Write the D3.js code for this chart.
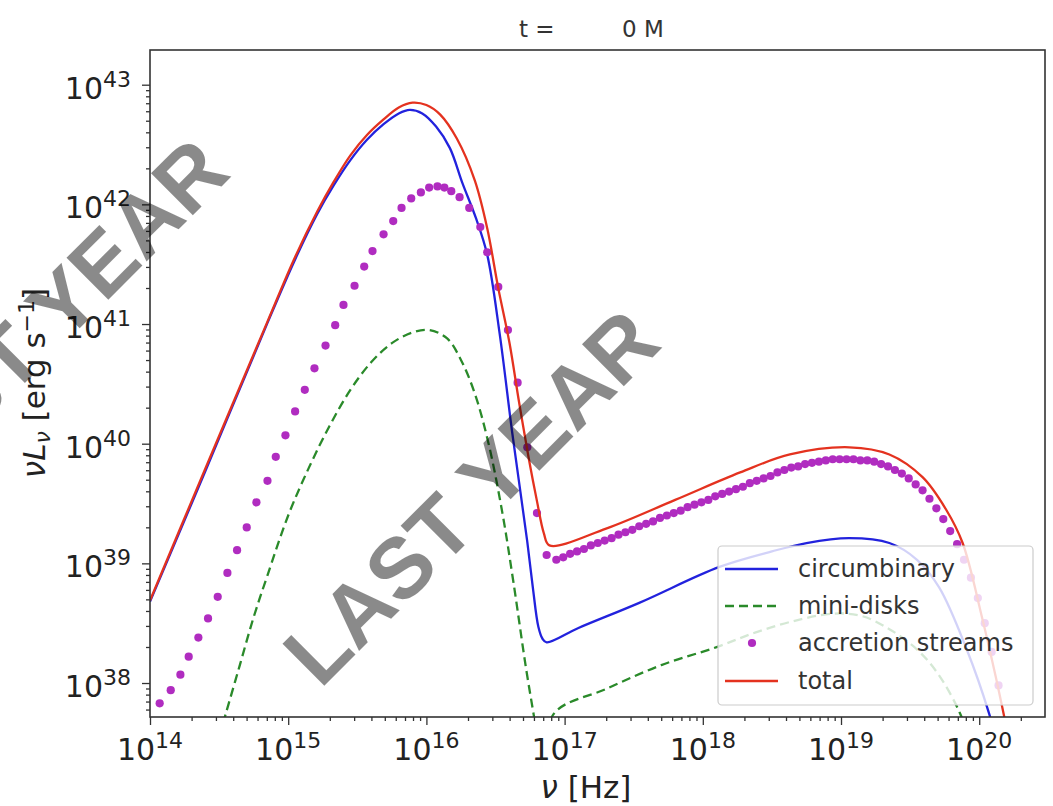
<!DOCTYPE html>
<html><head><meta charset="utf-8">
<script src="https://cdn.jsdelivr.net/npm/d3@7"></script>
<style>body{margin:0;background:#fff}svg{display:block}</style>
</head><body>
<svg id="c" width="1053" height="806"></svg>
<script>
// ---- data (log10 values) ----
const xTickExp = [14, 15, 16, 17, 18, 19, 20];
const yTickExp = [38, 39, 40, 41, 42, 43];
const legendLabels = ["circumbinary", "mini-disks", "accretion streams", "total"];

const circNu = [14.00, 14.40, 14.85, 15.05, 15.21, 15.33, 15.45, 15.57, 15.69, 15.80, 15.88, 15.97, 16.07, 16.17, 16.26, 16.36, 16.44, 16.53, 16.62, 16.68, 16.73, 16.77, 16.81, 16.84, 16.87, 17.10, 17.54, 18.12, 18.50, 18.75, 19.06, 19.35, 19.55, 19.71, 19.91, 20.07, 20.15];
const circL  = [38.68, 39.77, 41.01, 41.54, 41.92, 42.16, 42.37, 42.54, 42.67, 42.76, 42.79, 42.76, 42.65, 42.47, 42.18, 41.88, 41.58, 40.92, 40.10, 39.60, 39.18, 38.80, 38.47, 38.37, 38.34, 38.46, 38.67, 38.97, 39.10, 39.17, 39.21, 39.17, 39.03, 38.80, 38.28, 37.75, 37.40];

const miniNu = [14.50, 14.55, 14.65, 14.75, 14.85, 15.00, 15.15, 15.30, 15.45, 15.60, 15.75, 15.90, 16.02, 16.15, 16.25, 16.35, 16.45, 16.55, 16.63, 16.72, 16.80, 16.85, 16.92, 17.30, 17.70, 18.10, 18.40, 18.70, 18.95, 19.15, 19.35, 19.55, 19.70, 19.86, 19.95];
const miniL  = [37.55, 37.75, 38.15, 38.55, 38.90, 39.40, 39.80, 40.15, 40.45, 40.68, 40.84, 40.93, 40.95, 40.88, 40.70, 40.42, 40.00, 39.42, 38.84, 38.13, 37.57, 37.20, 37.74, 37.95, 38.15, 38.30, 38.43, 38.53, 38.58, 38.56, 38.45, 38.28, 38.08, 37.75, 37.45];

const streamNu = [14.07, 14.15, 14.22, 14.28, 14.35, 14.42, 14.49, 14.56, 14.63, 14.70, 14.77, 14.85, 14.91, 14.98, 15.05, 15.12, 15.19, 15.27, 15.34, 15.40, 15.48, 15.55, 15.61, 15.69, 15.76, 15.82, 15.89, 15.96, 16.02, 16.08, 16.13, 16.18, 16.24, 16.31, 16.39, 16.44, 16.52, 16.59, 16.66, 16.73, 16.80, 16.87,
  16.94, 16.99, 17.04, 17.09, 17.14, 17.19, 17.24, 17.29, 17.34, 17.39, 17.44, 17.49, 17.54, 17.59, 17.64, 17.69, 17.74, 17.79, 17.84, 17.89, 17.94, 17.99, 18.04, 18.09, 18.14, 18.19, 18.24, 18.29, 18.34, 18.39, 18.44, 18.49, 18.54, 18.59, 18.64, 18.69, 18.74, 18.79, 18.84, 18.89, 18.94, 18.99, 19.04, 19.09, 19.14, 19.19, 19.24, 19.29, 19.34, 19.39, 19.44, 19.49, 19.54, 19.59, 19.64, 19.69, 19.74, 19.79, 19.84, 19.89, 19.94, 19.99, 20.04, 20.09, 20.14, 20.19];
const streamL  = [37.83, 37.94, 38.07, 38.22, 38.38, 38.54, 38.72, 38.92, 39.11, 39.30, 39.51, 39.69, 39.89, 40.07, 40.27, 40.45, 40.63, 40.82, 40.99, 41.16, 41.32, 41.48, 41.61, 41.75, 41.86, 41.97, 42.05, 42.10, 42.14, 42.15, 42.14, 42.11, 42.06, 41.97, 41.81, 41.60, 41.31, 40.95, 40.51, 39.97, 39.42, 39.07,
  39.03, 39.05, 39.08, 39.10, 39.12, 39.15, 39.17, 39.19, 39.21, 39.24, 39.26, 39.28, 39.31, 39.33, 39.35, 39.38, 39.40, 39.42, 39.44, 39.47, 39.49, 39.51, 39.53, 39.56, 39.58, 39.60, 39.62, 39.64, 39.67, 39.69, 39.71, 39.73, 39.76, 39.78, 39.80, 39.81, 39.83, 39.84, 39.85, 39.86, 39.87, 39.87, 39.87, 39.87, 39.86, 39.86, 39.85, 39.83, 39.81, 39.78, 39.75, 39.71, 39.66, 39.61, 39.54, 39.46, 39.37, 39.27, 39.16, 39.03, 38.88, 38.71, 38.50, 38.26, 37.98, 37.67];

const totalNu = [14.00, 14.40, 14.85, 15.05, 15.21, 15.33, 15.45, 15.57, 15.69, 15.80, 15.90, 16.00, 16.10, 16.22, 16.35, 16.44, 16.52, 16.60, 16.67, 16.74, 16.80, 16.85, 16.89, 17.30, 17.80, 18.27, 18.63, 19.06, 19.35, 19.59, 19.76, 19.88, 20.02, 20.12, 20.22];
const totalL  = [38.69, 39.79, 41.02, 41.56, 41.94, 42.19, 42.41, 42.58, 42.71, 42.81, 42.85, 42.83, 42.75, 42.55, 42.20, 41.80, 41.30, 40.85, 40.35, 39.88, 39.52, 39.25, 39.15, 39.29, 39.53, 39.76, 39.91, 39.97, 39.91, 39.72, 39.45, 39.17, 38.55, 38.05, 37.50];

// ---- layout ----
const L = 150, R = 1045, T = 50, B = 717;
const col = {circ: "#2222dd", mini: "#2a8a2a", stream: "#b02cc0", total: "#e4321f", axis: "#333"};
const pw = v => Math.pow(10, v);
const x = d3.scaleLog().domain([1e14, pw(20.476)]).range([L, R]);
const y = d3.scaleLog().domain([pw(37.716), pw(43.29)]).range([B, T]);

const svg = d3.select("#c");
svg.append("rect").attr("width", 1053).attr("height", 806).attr("fill", "#fff");
svg.append("defs").append("clipPath").attr("id", "clip")
  .append("rect").attr("x", L).attr("y", T).attr("width", R - L).attr("height", B - T);

const plot = svg.append("g").attr("clip-path", "url(#clip)");
const zip = (a, b) => a.map((v, i) => [pw(v), pw(b[i])]);
const line = d3.line().x(d => x(d[0])).y(d => y(d[1])).curve(d3.curveCatmullRom.alpha(0.5));

plot.append("path").datum(zip(circNu, circL)).attr("d", line)
  .attr("fill", "none").attr("stroke", col.circ).attr("stroke-width", 2.3);
plot.append("path").datum(zip(miniNu, miniL)).attr("d", line)
  .attr("fill", "none").attr("stroke", col.mini).attr("stroke-width", 2.3).attr("stroke-dasharray", "9,5");
plot.selectAll("circle.s").data(zip(streamNu, streamL)).join("circle")
  .attr("class", "s").attr("cx", d => x(d[0])).attr("cy", d => y(d[1])).attr("r", 4.1).attr("fill", col.stream);
plot.append("path").datum(zip(totalNu, totalL)).attr("d", line)
  .attr("fill", "none").attr("stroke", col.total).attr("stroke-width", 2.3);

// ---- axes ----
const majX = xTickExp.map(pw), majY = yTickExp.map(pw);
const isMaj = v => Math.abs(Math.log10(v) - Math.round(Math.log10(v))) < 1e-6;
const minX = x.ticks(20).filter(v => !isMaj(v));
const minY = y.ticks(20).filter(v => !isMaj(v));

function styleAxis(g) { g.select(".domain").remove(); g.selectAll("line").attr("stroke", col.axis).attr("stroke-width", 1.3); }
svg.append("g").attr("transform", `translate(0,${B})`).call(d3.axisBottom(x).tickValues(majX).tickSize(8).tickFormat("")).call(styleAxis);
svg.append("g").attr("transform", `translate(0,${B})`).call(d3.axisBottom(x).tickValues(minX).tickSize(4).tickFormat("")).call(styleAxis);
svg.append("g").attr("transform", `translate(${L},0)`).call(d3.axisLeft(y).tickValues(majY).tickSize(8).tickFormat("")).call(styleAxis);
svg.append("g").attr("transform", `translate(${L},0)`).call(d3.axisLeft(y).tickValues(minY).tickSize(4).tickFormat("")).call(styleAxis);

svg.append("rect").attr("x", L).attr("y", T).attr("width", R - L).attr("height", B - T)
  .attr("fill", "none").attr("stroke", col.axis).attr("stroke-width", 1.6);

const font = "DejaVu Sans, sans-serif";
xTickExp.forEach(e => {
  const t = svg.append("text").attr("x", x(pw(e))).attr("y", 760).attr("text-anchor", "middle")
    .attr("font-family", font).attr("font-size", 30).attr("fill", "#222");
  t.append("tspan").text("10");
  t.append("tspan").attr("dy", -12).attr("font-size", 22).text(e);
});
yTickExp.forEach(e => {
  const t = svg.append("text").attr("x", 131).attr("y", y(pw(e)) + 14).attr("text-anchor", "end")
    .attr("font-family", font).attr("font-size", 30).attr("fill", "#222");
  t.append("tspan").text("10");
  t.append("tspan").attr("dy", -12).attr("font-size", 22).text(e);
});

// axis labels
const xl = svg.append("text").attr("x", 586).attr("y", 798).attr("text-anchor", "middle")
  .attr("font-family", font).attr("font-size", 31).attr("fill", "#222");
xl.append("tspan").attr("font-style", "italic").text("ν");
xl.append("tspan").text(" [Hz]");

const yl = svg.append("text").attr("transform", "translate(45,383) rotate(-90)").attr("text-anchor", "middle")
  .attr("font-family", font).attr("font-size", 31).attr("fill", "#222");
yl.append("tspan").attr("font-style", "italic").text("νL");
yl.append("tspan").attr("font-style", "italic").attr("font-size", 22).attr("dy", 5).text("ν");
yl.append("tspan").attr("dy", -5).text(" [erg s");
yl.append("tspan").attr("font-size", 22).attr("dy", -11).text("−1");
yl.append("tspan").attr("dy", 11).text("]");

// title
const tt = svg.append("text").attr("y", 37).attr("font-family", font).attr("font-size", 23).attr("fill", "#333");
tt.append("tspan").attr("x", 519).text("t =");
tt.append("tspan").attr("x", 622).text("0 M");

// ---- legend ----
const lg = svg.append("g");
lg.append("rect").attr("x", 718).attr("y", 546).attr("width", 315).attr("height", 159).attr("rx", 4)
  .attr("fill", "#fff").attr("fill-opacity", 0.8).attr("stroke", "#cccccc").attr("stroke-width", 1.2);
const rowY = [569, 606, 643, 681];
const legStyle = [
  {c: col.circ, dash: null, dot: false},
  {c: col.mini, dash: "9,5", dot: false},
  {c: col.stream, dash: null, dot: true},
  {c: col.total, dash: null, dot: false}
];
legendLabels.forEach((lab, i) => {
  const s = legStyle[i];
  if (s.dot) {
    lg.append("circle").attr("cx", 752).attr("cy", rowY[i]).attr("r", 4.1).attr("fill", s.c);
  } else {
    const ln = lg.append("line").attr("x1", 725).attr("x2", 778).attr("y1", rowY[i]).attr("y2", rowY[i])
      .attr("stroke", s.c).attr("stroke-width", 2.3);
    if (s.dash) ln.attr("stroke-dasharray", s.dash);
  }
  lg.append("text").attr("x", 798).attr("y", rowY[i] + 8).attr("font-family", font).attr("font-size", 24)
    .attr("fill", "#333").text(lab);
});

// ---- watermarks ----
const wm = [[61, 347], [492, 518]];
wm.forEach(p => {
  svg.append("text").attr("transform", `translate(${p[0]},${p[1]}) rotate(-45)`).attr("text-anchor", "middle")
    .attr("font-family", "Liberation Sans, Arial, sans-serif").attr("font-weight", "bold").attr("font-size", 86)
    .attr("fill", "#000").attr("fill-opacity", 0.46).text("LAST YEAR");
});
</script>
</body></html>
